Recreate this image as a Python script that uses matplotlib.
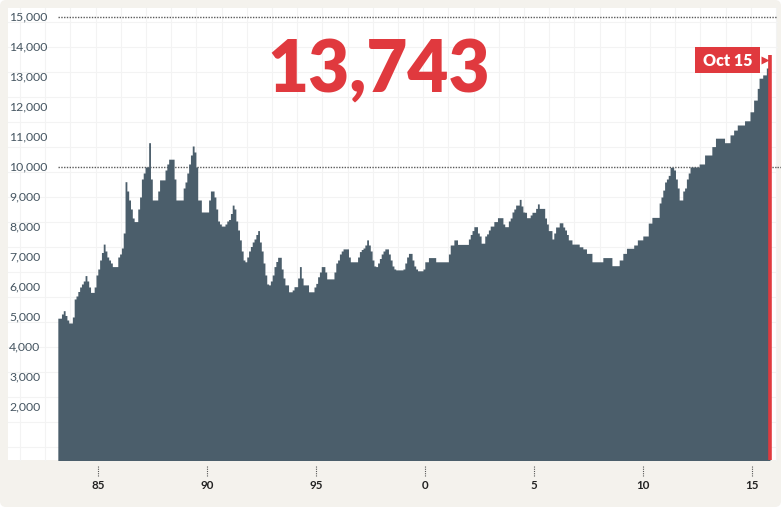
import numpy as np
import matplotlib
matplotlib.use("Agg")
import matplotlib.pyplot as plt
from matplotlib.patches import Rectangle, FancyBboxPatch
import matplotlib.transforms as mtransforms

# ---------------- data ----------------
start_year, start_month = 1983, 3          # first monthly value: March 1983
values = [
    # 1983 (Mar-Dec)
    4960, 4960, 5100, 5210, 5050, 4900, 4800, 4800, 5000, 5600,
    # 1984
    5700, 5850, 6000, 6100, 6200, 6380, 6200, 6000, 5820, 5820, 6000, 6400,
    # 1985
    6600, 6900, 7150, 7430, 7200, 7000, 6900, 6800, 6680, 6680, 6680, 7000,
    # 1986
    7100, 7300, 7800, 9510, 9200, 8900, 8600, 8300, 8180, 8180, 8600, 9000,
    # 1987
    9600, 9800, 10000, 10000, 10810, 9600, 8900, 8900, 8900, 9200, 9570, 9570,
    # 1988
    9570, 9900, 10100, 10260, 10260, 10260, 9600, 8900, 8900, 8900, 8900, 9300,
    # 1989
    9500, 9800, 10100, 10400, 10700, 10500, 10000, 8900, 8900, 8500, 8500, 8500,
    # 1990
    8500, 8900, 9200, 9200, 9000, 8600, 8200, 8100, 8030, 8030, 8100, 8200,
    # 1991
    8250, 8450, 8730, 8600, 8200, 7900, 7570, 7200, 6900, 6840, 7000, 7200,
    # 1992
    7350, 7500, 7600, 7750, 7880, 7500, 7200, 6800, 6400, 6100, 6070, 6200,
    # 1993
    6400, 6680, 6850, 6990, 6990, 6600, 6300, 6070, 6070, 5840, 5840, 5900,
    # 1994
    6010, 6010, 6300, 6680, 6300, 6070, 6070, 6070, 5840, 5840, 5840, 6000,
    # 1995
    6120, 6340, 6500, 6680, 6680, 6500, 6270, 6270, 6270, 6270, 6500, 6800,
    # 1996
    6900, 7100, 7200, 7270, 7270, 7270, 7000, 6840, 6840, 6840, 6840, 7000,
    # 1997
    7180, 7250, 7300, 7400, 7570, 7400, 7200, 6900, 6700, 6680, 6800, 6950,
    # 1998
    7100, 7200, 7270, 7270, 7100, 6900, 6700, 6600, 6570, 6570, 6570, 6570,
    # 1999
    6600, 6800, 7000, 7120, 7120, 6900, 6700, 6600, 6540, 6540, 6540, 6600,
    # 2000
    6840, 6840, 6980, 6980, 6980, 6980, 6840, 6840, 6840, 6840, 6840, 6840,
    # 2001
    6840, 7100, 7400, 7400, 7570, 7570, 7420, 7420, 7420, 7420, 7420, 7420,
    # 2002
    7600, 7750, 7880, 8010, 8010, 7800, 7700, 7460, 7460, 7700, 7770, 7900,
    # 2003
    8030, 8030, 8180, 8180, 8310, 8310, 8310, 8100, 8010, 8010, 8200, 8300,
    # 2004
    8500, 8600, 8730, 8730, 8920, 8700, 8500, 8490, 8310, 8310, 8400, 8490,
    # 2005
    8490, 8620, 8770, 8620, 8620, 8620, 8300, 8100, 7880, 7880, 7600, 7800,
    # 2006
    8000, 8000, 8140, 8140, 8000, 7900, 7750, 7570, 7570, 7430, 7430, 7430,
    # 2007
    7430, 7340, 7340, 7270, 7270, 7120, 7120, 7120, 6840, 6840, 6840, 6840,
    # 2008
    6840, 6840, 6980, 6980, 6980, 6980, 6980, 6710, 6710, 6710, 6710, 6900,
    # 2009
    6900, 7120, 7120, 7290, 7290, 7290, 7290, 7400, 7400, 7570, 7570, 7570,
    # 2010
    7700, 7700, 7700, 8130, 8130, 8320, 8320, 8320, 8320, 8800, 9000, 9230,
    # 2011
    9500, 9600, 9720, 9990, 9990, 9900, 9600, 9300, 8900, 8900, 9200, 9300,
    # 2012
    9600, 9800, 10000, 10000, 10000, 10000, 10000, 10100, 10100, 10100, 10400, 10400,
    # 2013
    10400, 10400, 10680, 10680, 10960, 10960, 10960, 10960, 10960, 10810, 10810, 10810,
    # 2014
    11070, 11070, 11230, 11230, 11400, 11400, 11400, 11400, 11540, 11540, 11540, 11840,
    # 2015 (Jan-Oct)
    11840, 12230, 12230, 12620, 12960, 12960, 13070, 13070, 13300, 13743,
]
headline = "13,743"
last_label = "Oct 15"
ytick_values = [2000, 3000, 4000, 5000, 6000, 7000, 8000, 9000, 10000,
                11000, 12000, 13000, 14000, 15000]
ytick_labels = ["2,000", "3,000", "4,000", "5,000", "6,000", "7,000", "8,000",
                "9,000", "10,000", "11,000", "12,000", "13,000", "14,000", "15,000"]
xtick_years = [1985, 1990, 1995, 2000, 2005, 2010, 2015]
xtick_labels = ["85", "90", "95", "0", "5", "10", "15"]
ref_lines = [10000, 15000]

# ---------------- style ----------------
FONT = ["Lato", "DejaVu Sans"]
plt.rcParams["font.family"] = FONT
BEIGE = "#f4f2ed"
BAR = "#4b5e6b"
RED = "#e0393e"
LABEL = "#455561"

W, H = 781, 515
fig = plt.figure(figsize=(W / 100, H / 100), dpi=100, facecolor="white")

# background (pixel coordinates)
bg = fig.add_axes([0, 0, 1, 1], zorder=0)
bg.set_xlim(0, W)
bg.set_ylim(H, 0)
bg.axis("off")
bg.add_patch(FancyBboxPatch((0, 0), W, 507, boxstyle="round,pad=0,rounding_size=6",
                            fc=BEIGE, ec="none"))
px0, px1, py0, py1 = 8, 777, 8, 460
bg.add_patch(Rectangle((px0, py0), px1 - px0, py1 - py0, fc="white", ec="none"))
for gx in np.arange(20, px1, 25.2):
    bg.plot([gx, gx], [py0, py1], color="#f3f3f3", lw=0.8, zorder=1)
for gy in np.arange(21.7, py1, 25):
    bg.plot([px0, px1], [gy, gy], color="#f3f3f3", lw=0.8, zorder=1)

# data axes
ax = fig.add_axes([px0 / W, (H - py1) / H, (px1 - px0) / W, (py1 - py0) / H], zorder=2)
ax.patch.set_alpha(0)
for s in ax.spines.values():
    s.set_visible(False)

dates = start_year + (start_month - 1 + np.arange(len(values))) / 12.0
edges = np.append(dates, dates[-1] + 1 / 12.0)
vals_ext = np.append(values, values[-1])

ymin = 233
ax.fill_between(edges, vals_ext, ymin - 500, step="post", color=BAR, lw=0, zorder=2)

ax.set_xlim(1980.881, 2016.156)
ax.set_ylim(ymin, 15300)

# reference dotted lines
x_start_frac = (58 - px0) / (px1 - px0)
for r in ref_lines:
    ax.axhline(r, xmin=x_start_frac, xmax=1.0, color="#5a5a5a", lw=1.0,
               ls=(0, (1, 1)), zorder=1)
ax.plot([1, 1.006], [10000, 10000],
        transform=mtransforms.blended_transform_factory(ax.transAxes, ax.transData),
        color="#5a5a5a", lw=1.0, ls=(0, (1, 1)), clip_on=False)

# y labels (left aligned, inside panel)
ytrans = mtransforms.blended_transform_factory(ax.transAxes, ax.transData)
for v, lab in zip(ytick_values, ytick_labels):
    ax.text(0.0015, v, lab, transform=ytrans, ha="left", va="center",
            fontsize=8.8, color=LABEL)
ax.set_yticks([])

# x ticks
ax.set_xticks(xtick_years)
ax.set_xticklabels(xtick_labels, fontsize=8.3, fontweight="bold", color="#222222")
ax.tick_params(axis="x", length=0, pad=14.5)
xtrans = mtransforms.blended_transform_factory(ax.transData, ax.transAxes)
for yr in xtick_years:
    ax.plot([yr, yr], [-0.013, -0.038], transform=xtrans, clip_on=False,
            color="#555555", lw=0.8, ls=(0, (1, 1)))

# red marker line at the latest value
ax.plot([edges[-1], edges[-1]], [ymin - 500, values[-1]], color=RED, lw=2.6,
        zorder=3, solid_capstyle="butt")

# headline number
bg.text(378.5, 92, headline, ha="center", va="baseline", fontsize=51,
        fontweight="heavy", color=RED, zorder=5)

# "Oct 15" label box with pointer
bg.add_patch(Rectangle((695, 47), 65, 26, fc=RED, ec="none", zorder=5))
bg.text(727.5, 60.5, last_label, ha="center", va="center", fontsize=11.5,
        fontweight="heavy", color="white", zorder=6)
bg.plot([765], [60], marker=">", ms=6, color=RED, mec="none", zorder=6)

fig.savefig("out.png", dpi=100, facecolor="white")
